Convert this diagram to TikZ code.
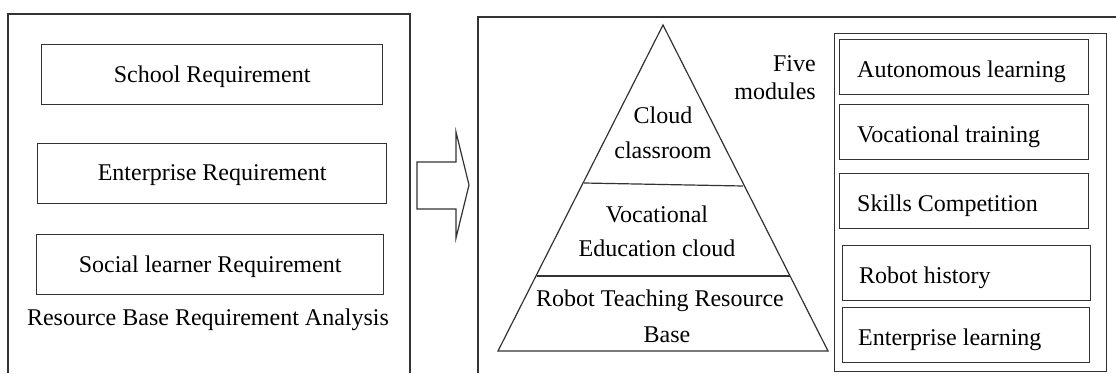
\documentclass[tikz,border=0pt]{standalone}
\usepackage{fontspec}
\setmainfont{Liberation Serif}
\tikzset{
  ln/.style={draw=black!80, line width=1.2pt},
  txt/.style={font=\fontsize{24}{28}\selectfont, inner sep=0pt, text=black, yshift=-2pt},
}
\begin{document}
\begin{tikzpicture}[x=1pt,y=-1pt]
\useasboundingbox (0,0) rectangle (1116,373);
\fill[white] (0,0) rectangle (1116,373);
% left frame (open at the bottom)
\coordinate (l1) at (8,373); \coordinate (l2) at (8,14);
\coordinate (l3) at (410,14); \coordinate (l4) at (410,373);
\draw[ln] (l1) -- (l2) -- (l3) -- (l4);
% requirement boxes
\node[ln, minimum width=341pt, minimum height=60pt, anchor=north west] (school) at (41,44) {};
\node[txt] at (school.center) {School Requirement};
\node[ln, minimum width=349pt, minimum height=60pt, anchor=north west] (ent) at (37,143) {};
\node[txt] at (ent.center) {Enterprise Requirement};
\node[ln, minimum width=347pt, minimum height=60pt, anchor=north west] (soc) at (36,234) {};
\node[txt] at (soc.center) {Social learner Requirement};
\node[txt] (rbra) at (208,318) {Resource Base Requirement Analysis};
% block arrow
\coordinate (a1) at (417,162); \coordinate (a2) at (456,162);
\coordinate (a3) at (456,132); \coordinate (a4) at (469,185);
\coordinate (a5) at (456,238); \coordinate (a6) at (456,209);
\coordinate (a7) at (417,209);
\draw[ln, line join=miter] (a1) -- (a2) -- (a3) -- (a4) -- (a5) -- (a6) -- (a7) -- cycle;
% right frame (open at the bottom and right)
\coordinate (r1) at (478,373); \coordinate (r2) at (478,17); \coordinate (r3) at (1116,17);
\draw[ln] (r1) -- (r2) -- (r3);
% pyramid
\coordinate (apex) at (663,25);
\coordinate (bl) at (498,351);
\coordinate (br) at (828,351);
\draw[ln, line join=miter] (apex) -- (br) -- (bl) -- cycle;
\coordinate (d1l) at (584,183); \coordinate (d1r) at (743,186);
\coordinate (d2l) at (537,276); \coordinate (d2r) at (790,276);
\draw[ln] (d1l) -- (d1r);
\draw[ln] (d2l) -- (d2r);
\node[txt] (cc1) at (663,113) {Cloud};
\node[txt] (cc2) at (663,148) {classroom};
\node[txt] (ve1) at (657,212) {Vocational};
\node[txt] (ve2) at (657,246) {Education cloud};
\node[txt] (rt1) at (660,299) {Robot Teaching Resource};
\node[txt] (rt2) at (667,333) {Base};
\node[txt, anchor=east] (five) at (816,62) {Five};
\node[txt, anchor=east] (mods) at (816,89) {modules};
% modules frame
\node[ln, minimum width=272pt, minimum height=338pt, anchor=north west] (mframe) at (834,33) {};
\node[ln, minimum width=249pt, minimum height=55pt, anchor=north west] (m1) at (839,39) {};
\node[txt, anchor=west] at (857,70) {Autonomous learning};
\node[ln, minimum width=249pt, minimum height=55pt, anchor=north west] (m2) at (839,104) {};
\node[txt, anchor=west] at (857,135) {Vocational training};
\node[ln, minimum width=249pt, minimum height=55pt, anchor=north west] (m3) at (839,173) {};
\node[txt, anchor=west] at (857,204) {Skills Competition};
\node[ln, minimum width=248pt, minimum height=55pt, anchor=north west] (m4) at (842,245) {};
\node[txt, anchor=west] at (859,276) {Robot history};
\node[ln, minimum width=247pt, minimum height=55pt, anchor=north west] (m5) at (842,307) {};
\node[txt, anchor=west] at (858,338) {Enterprise learning};
\end{tikzpicture}
\end{document}
